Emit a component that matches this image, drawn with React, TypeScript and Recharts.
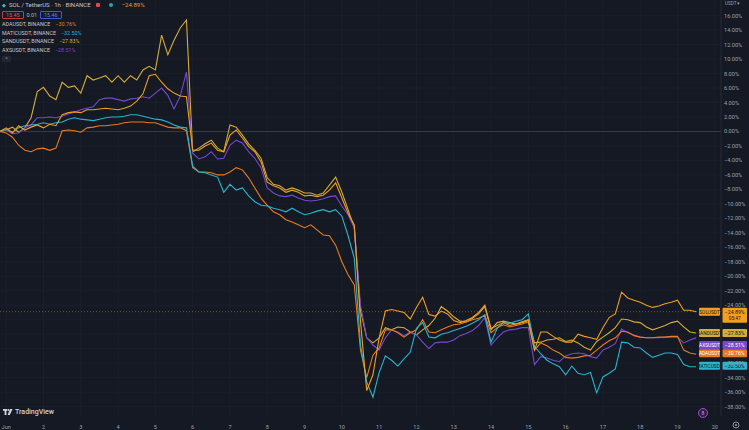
import React from 'react';
import { LineChart, Line, XAxis, YAxis, CartesianGrid, ReferenceLine } from 'recharts';

// hours since Jun 1 00:00, one bar every 4h
const hours = Array.from({ length: 113 }, (_, i) => -4 + 4 * i);

const sol = [
  0, 0.5, -0.2, 0.8, 0.2, 0.6, 0.9, 0.5, 1.0, 0.8,
  2.3, 2.6, 2.7, 2.6, 3.0, 3.0, 3.1, 3.2, 3.1, 3.0,
  3.2, 3.5, 4.2, 5.2, 7.7, 7.9, 6.8, 5.9, 5.3, 4.9,
  4.8, -2.6, -2.6, -2.0, -1.6, -2.6, -2.8, -0.5, 0.2, -0.9,
  -2.1, -2.8, -4.2, -7.0, -7.5, -7.8, -8.4, -8.1, -8.4, -8.9,
  -8.8, -9.0, -8.8, -8.1, -7.1, -9.2, -11.3, -12.9, -26.2, -35.8,
  -33.6, -28.5, -24.8, -24.6, -24.8, -25.0, -25.9, -24.3, -22.9, -25.3,
  -25.5, -24.8, -25.2, -26.1, -26.4, -26.1, -25.7, -25.0, -24.0, -27.2,
  -26.8, -26.4, -26.8, -26.6, -26.4, -26.1, -30.2, -27.7, -27.7, -28.3,
  -28.8, -29.1, -29.1, -28.0, -28.3, -28.5, -28.7, -27.1, -25.7, -25.2,
  -22.2, -23.0, -23.3, -23.6, -24.0, -24.3, -24.1, -23.8, -23.6, -23.3,
  -24.7, -24.7, -24.89,
];

const sand = [
  0, 0.2, 0.6, -0.1, 0.5, 1.9, 5.5, 6.1, 4.9, 4.4,
  6.8, 6.1, 6.3, 5.3, 7.7, 7.1, 7.4, 7.7, 6.8, 7.7,
  6.8, 7.7, 7.1, 8.5, 9.0, 8.5, 13.3, 10.6, 12.6, 14.3,
  15.4, -2.8, -2.3, -1.7, -1.2, -2.3, -2.8, 0.9, 0.6, -0.5,
  -1.7, -2.6, -3.7, -6.4, -7.3, -7.5, -8.1, -7.8, -8.1, -8.5,
  -8.5, -8.8, -8.5, -7.4, -6.3, -8.4, -10.8, -13.3, -24.7, -28.5,
  -29.2, -28.5, -27.1, -27.4, -27.0, -27.1, -27.7, -28.1, -27.4, -26.8,
  -25.8, -24.2, -24.8, -25.6, -26.2, -26.3, -25.8, -25.2, -24.2, -27.4,
  -26.4, -26.2, -26.4, -26.6, -26.3, -26.0, -29.2, -29.1, -28.8, -28.7,
  -28.5, -29.0, -28.8, -29.2, -29.8, -30.2, -29.0, -28.4, -27.8, -27.1,
  -25.9, -26.0, -26.3, -26.4, -27.0, -27.4, -27.1, -26.8, -26.4, -26.2,
  -27.0, -27.7, -27.83,
];

const ada = [
  0, -0.2, -0.8, -1.9, -2.6, -2.8, -2.4, -2.3, -2.6, -2.3,
  0.1, 0.2, 0.1, -0.1, 0.5, 0.6, 0.8, 0.8, 0.9, 1.0,
  1.2, 1.3, 1.3, 1.3, 1.2, 1.2, 0.9, 0.6, 0.5, 0.5,
  0.1, -5.0, -5.6, -5.6, -5.7, -6.0, -6.0, -5.6, -5.0, -5.3,
  -6.4, -7.8, -9.2, -10.2, -11.1, -11.5, -12.2, -12.5, -12.9, -13.3,
  -12.9, -13.6, -14.3, -14.4, -15.7, -18.0, -19.8, -21.2, -30.2, -34.0,
  -30.9, -29.9, -27.4, -27.4, -27.8, -28.4, -27.8, -27.4, -26.0, -27.7,
  -27.8, -27.4, -27.0, -26.7, -26.6, -26.3, -26.0, -25.8, -25.4, -27.8,
  -27.1, -26.7, -27.0, -26.8, -26.6, -26.3, -30.2, -29.2, -29.6, -30.2,
  -30.6, -31.2, -31.3, -31.2, -31.0, -30.9, -30.2, -29.5, -28.9, -28.5,
  -27.6, -27.7, -28.2, -28.4, -28.5, -28.5, -28.4, -28.4, -28.3, -28.3,
  -30.2, -30.6, -30.76,
];

const axs = [
  0, 0.2, -0.3, -0.2, 0.5, 0.9, 1.9, 1.9, 2.0, 1.9,
  2.1, 2.4, 2.7, 3.0, 3.2, 3.4, 4.4, 4.6, 4.6, 4.4,
  4.2, 4.5, 4.6, 4.8, 4.6, 5.3, 6.0, 5.0, 3.1, 4.9,
  8.2, -3.0, -3.8, -3.5, -2.8, -3.8, -3.7, -1.9, -1.2, -1.6,
  -2.8, -3.7, -5.0, -7.8, -8.5, -8.9, -9.0, -8.8, -9.2, -9.5,
  -9.6, -9.5, -9.3, -9.0, -8.9, -10.3, -11.5, -13.3, -24.0, -28.5,
  -29.5, -30.2, -28.5, -27.4, -27.7, -28.2, -27.7, -28.1, -29.1, -30.0,
  -29.2, -29.1, -29.1, -28.8, -28.2, -27.9, -27.5, -26.8, -25.7, -29.5,
  -28.5, -27.7, -27.4, -27.3, -27.1, -27.1, -32.2, -31.1, -31.3, -31.6,
  -31.8, -31.0, -30.7, -30.6, -30.7, -31.1, -31.3, -30.2, -29.8, -29.3,
  -27.3, -27.8, -28.1, -28.4, -28.5, -28.5, -28.5, -28.4, -28.4, -28.4,
  -29.2, -28.8, -28.51,
];

const matic = [
  0, 0.3, -0.1, 0.5, 0.8, 0.9, 1.0, 1.2, 1.0, 1.2,
  1.3, 1.7, 1.9, 1.7, 1.6, 1.5, 1.7, 1.9, 2.0, 2.0,
  2.1, 2.3, 2.3, 2.1, 1.9, 1.7, 1.6, 1.3, 0.9, 0.6,
  0.5, -4.8, -5.6, -5.7, -6.0, -6.3, -8.4, -7.3, -8.1, -7.8,
  -8.9, -9.7, -10.2, -10.3, -10.6, -10.8, -11.1, -10.6, -11.1, -11.5,
  -11.3, -11.0, -10.8, -11.1, -10.8, -11.7, -14.4, -17.5, -29.5, -34.6,
  -36.7, -33.3, -31.0, -31.6, -32.4, -31.4, -30.5, -27.2, -26.4, -28.4,
  -28.5, -28.0, -27.8, -27.5, -27.2, -26.9, -26.5, -26.0, -25.3, -29.1,
  -27.2, -26.4, -26.5, -26.2, -26.0, -25.2, -29.7, -30.7, -31.6, -32.1,
  -32.5, -33.6, -32.4, -33.4, -33.6, -33.3, -36.1, -33.9, -33.4, -32.8,
  -29.1, -29.2, -29.8, -29.9, -30.6, -31.2, -30.9, -30.6, -30.6, -30.8,
  -32.2, -32.5, -32.5,
];

const dayTicks = [0, 24, 48, 72, 96, 120, 144, 168, 192, 216, 240, 264, 288, 312, 336, 360, 384, 408, 432, 456];
const dayLabels = ['Jun', '2', '3', '4', '5', '6', '7', '8', '9', '10', '11', '12', '13', '14', '15', '16', '17', '18', '19', '20'];
const pctTicks = [-38, -36, -34, -32, -30, -28, -26, -24, -22, -20, -18, -16, -14, -12, -10, -8, -6, -4, -2, 0, 2, 4, 6, 8, 10, 12, 14, 16];
// tick labels hidden behind the last-value tags
const coveredTicks = [-26, -28, -30];

const C = {
  sol: '#f29e1e',
  sand: '#d6ab38',
  ada: '#ea7a1c',
  axs: '#7449cc',
  matic: '#26b5cc',
};

const last = {
  sol: -24.89,
  ada: -30.76,
  matic: -32.5,
  sand: -27.83,
  axs: -28.51,
};

const data = hours.map((t, i) => ({
  t,
  sol: sol[i],
  sand: sand[i],
  ada: ada[i],
  axs: axs[i],
  matic: matic[i],
}));

const FONT = 'Roboto, "Liberation Sans", sans-serif';
const fmt = (v: number) => (v < 0 ? '\u2212' : '') + Math.abs(v).toFixed(2) + '%';

const PriceTick = (props: any) => {
  const { x, y, payload } = props;
  if (coveredTicks.includes(payload.value)) return null;
  return (
    <text x={x - 5} y={y} dy={2} fontSize={5.6} fill="#9aa0ab" textAnchor="start" fontFamily={FONT}>
      {fmt(payload.value)}
    </text>
  );
};

const DayTick = (props: any) => {
  const { x, y, payload } = props;
  const idx = dayTicks.indexOf(payload.value);
  return (
    <text x={x} y={y} dy={5} fontSize={5.6} fill="#9aa0ab" textAnchor="middle" fontFamily={FONT}>
      {dayLabels[idx]}
    </text>
  );
};

const makeTag = (name: string, value: number, bg: string, fg: string, shift: number, extra?: string) => (p: any) => {
  const vb = p.viewBox || {};
  const right = vb.x + vb.width;
  const cy = vb.y + shift;
  const h = 8;
  return (
    <g fontFamily={FONT}>
      <rect x={right - 22} y={cy - h / 2} width={21} height={h} rx={1} fill={bg} />
      <text x={right - 11.5} y={cy + 1.9} fontSize={4.8} fill={fg} textAnchor="middle">{name}</text>
      <rect x={right + 1.5} y={cy - h / 2} width={24.5} height={extra ? h + 7 : h} rx={1} fill={bg} />
      <text x={right + 13.7} y={cy + 1.9} fontSize={5.2} fill={fg} textAnchor="middle">{fmt(value)}</text>
      {extra && (
        <text x={right + 13.7} y={cy + 8.6} fontSize={4.8} fill={fg} textAnchor="middle">{extra}</text>
      )}
    </g>
  );
};

const legendRows = [
  { name: 'ADAUSDT, BINANCE', value: last.ada, color: C.ada },
  { name: 'MATICUSDT, BINANCE', value: last.matic, color: C.matic },
  { name: 'SANDUSDT, BINANCE', value: last.sand, color: C.sand },
  { name: 'AXSUSDT, BINANCE', value: last.axs, color: C.axs },
];

const App = () => {
  return (
    <div style={{ position: 'absolute', left: 0, top: 0, width: 749, height: 430, background: '#151924', overflow: 'hidden', fontFamily: FONT }}>
      <LineChart width={749} height={430} data={data} margin={{ top: 0, right: 0, bottom: 0, left: 0 }}>
        <CartesianGrid stroke="#1d212c" strokeWidth={0.8} horizontalValues={pctTicks} verticalValues={dayTicks} />
        <XAxis
          dataKey="t"
          type="number"
          domain={[-4, 460]}
          ticks={dayTicks}
          interval={0}
          height={14}
          axisLine={false}
          tickLine={false}
          tick={<DayTick />}
          allowDataOverflow
        />
        <YAxis
          orientation="right"
          type="number"
          domain={[-39.3, 18.16]}
          ticks={pctTicks}
          interval={0}
          width={28}
          axisLine={{ stroke: '#2a2e39', strokeWidth: 0.8 }}
          tickLine={false}
          tick={<PriceTick />}
          allowDataOverflow
        />
        <ReferenceLine y={0} stroke="#3b3f4a" strokeWidth={0.9} />
        <Line dataKey="sand" stroke={C.sand} strokeWidth={1.1} dot={false} activeDot={false} isAnimationActive={false} />
        <Line dataKey="axs" stroke={C.axs} strokeWidth={1.1} dot={false} activeDot={false} isAnimationActive={false} />
        <Line dataKey="ada" stroke={C.ada} strokeWidth={1.1} dot={false} activeDot={false} isAnimationActive={false} />
        <Line dataKey="matic" stroke={C.matic} strokeWidth={1.1} dot={false} activeDot={false} isAnimationActive={false} />
        <Line dataKey="sol" stroke={C.sol} strokeWidth={1.1} dot={false} activeDot={false} isAnimationActive={false} />
        <ReferenceLine y={last.sol} stroke={C.sol} strokeOpacity={0.55} strokeDasharray="1 2" strokeWidth={0.8}
          label={makeTag('SOLUSDT', last.sol, C.sol, '#131722', 0, '05:47')} />
        <ReferenceLine y={last.sand} stroke="none" label={makeTag('SANDUSDT', last.sand, C.sand, '#131722', 0)} />
        <ReferenceLine y={last.axs} stroke="none" label={makeTag('AXSUSDT', last.axs, C.axs, '#ffffff', 7)} />
        <ReferenceLine y={last.ada} stroke="none" label={makeTag('ADAUSDT', last.ada, C.ada, '#ffffff', -1)} />
        <ReferenceLine y={last.matic} stroke="none" label={makeTag('MATICUSDT', last.matic, C.matic, '#131722', -1)} />
      </LineChart>

      {/* legend */}
      <div style={{ position: 'absolute', left: 2, top: 1, fontSize: 5.4, color: '#c3c6ce', lineHeight: '8.6px', whiteSpace: 'nowrap' }}>
        <div style={{ display: 'flex', alignItems: 'center', gap: 3, fontSize: 6 }}>
          <span style={{ color: '#4fb6c9', fontSize: 5 }}>◆</span>
          <span>SOL / TetherUS · 1h · BINANCE</span>
          <span style={{ display: 'inline-block', width: 4, height: 4, background: '#e04a4a', borderRadius: 1, marginLeft: 2 }} />
          <span style={{ display: 'inline-block', width: 4, height: 4, background: '#26a69a', borderRadius: 2, marginLeft: 6 }} />
          <span style={{ color: C.sol, marginLeft: 6 }}>{fmt(last.sol)}</span>
        </div>
        <div style={{ display: 'flex', alignItems: 'center', gap: 3, marginTop: 1, marginBottom: 1 }}>
          <span style={{ border: '0.8px solid #c93b3b', color: '#e05555', padding: '0 3px', borderRadius: 1, lineHeight: '6px' }}>15.45</span>
          <span style={{ color: '#b2b5be' }}>0.01</span>
          <span style={{ border: '0.8px solid #3b5fc9', color: '#5a84f0', padding: '0 3px', borderRadius: 1, lineHeight: '6px' }}>15.46</span>
        </div>
        {legendRows.map((r) => (
          <div key={r.name}>
            <span>{r.name}</span>
            <span style={{ color: r.color, marginLeft: 5 }}>{fmt(r.value)}</span>
          </div>
        ))}
        <div style={{ width: 9, height: 6, marginTop: 1, background: '#232733', borderRadius: 1, color: '#9aa0ab', fontSize: 5, lineHeight: '6px', textAlign: 'center' }}>^</div>
      </div>

      <div style={{ position: 'absolute', left: 725, top: 1, fontSize: 4.6, color: '#9aa0ab' }}>USDT ▾</div>

      {/* bottom bar */}
      <div style={{ position: 'absolute', left: 3, top: 408, display: 'flex', alignItems: 'center', gap: 2, color: '#d1d4dc' }}>
        <svg width={10} height={7} viewBox="0 0 10 7">
          <rect x={0} y={0} width={4} height={1.8} fill="#d1d4dc" />
          <rect x={1.6} y={0} width={1.8} height={6} fill="#d1d4dc" />
          <circle cx={5.3} cy={1} r={1} fill="#d1d4dc" />
          <polygon points="7,0 9.5,0 6.8,6 4.6,6" fill="#d1d4dc" />
        </svg>
        <span style={{ fontSize: 7, fontWeight: 500 }}>TradingView</span>
      </div>
      <svg style={{ position: 'absolute', left: 697, top: 407 }} width={12} height={12}>
        <circle cx={6} cy={6} r={4.5} fill="#2a1f3f" stroke="#9c4fd6" strokeWidth={1} />
        <text x={6} y={7.8} fontSize={5} fill="#c9a3ef" textAnchor="middle" fontFamily={FONT}>8</text>
      </svg>
      <svg style={{ position: 'absolute', left: 731, top: 420 }} width={10} height={10}>
        <circle cx={5} cy={5} r={3} fill="none" stroke="#9aa0ab" strokeWidth={0.9} />
        <circle cx={5} cy={5} r={1} fill="#9aa0ab" />
      </svg>
    </div>
  );
};

export default App;
